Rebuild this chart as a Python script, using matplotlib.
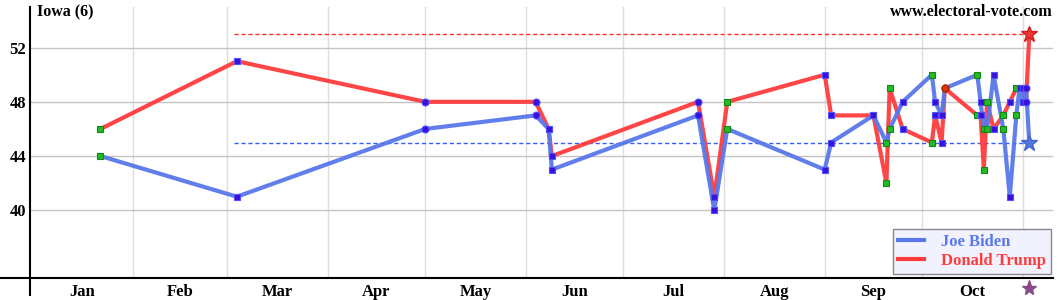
import pandas as pd
import matplotlib
matplotlib.use("Agg")
import matplotlib.pyplot as plt
from matplotlib.lines import Line2D

# polls for Iowa, 2020
poll_dates = ["2020-01-22", "2020-03-04", "2020-05-01", "2020-06-04", "2020-06-08",
              "2020-06-09", "2020-07-24", "2020-07-29", "2020-08-02", "2020-09-01",
              "2020-09-03", "2020-09-16", "2020-09-20", "2020-09-21", "2020-09-25",
              "2020-10-04", "2020-10-05", "2020-10-07", "2020-10-08", "2020-10-18",
              "2020-10-19", "2020-10-20", "2020-10-21", "2020-10-23", "2020-10-26",
              "2020-10-28", "2020-10-30", "2020-10-31", "2020-11-01", "2020-11-02"]
biden = [44, 41, 46, 47, 46, 43, 47, 40, 46, 43,
         45, 47, 45, 46, 48, 50, 48, 47, 49, 50,
         48, 46, 46, 50, 46, 41, 47, 49, 48, 49]
trump = [46, 51, 48, 48, 46, 44, 48, 41, 48, 50,
         47, 47, 42, 49, 46, 45, 47, 45, 49, 47,
         47, 43, 48, 46, 47, 48, 49, 49, 49, 48]
# marker kind per poll: g = green square, b = blue square, c = blue circle, r = red circle
poll_marks = ["g", "b", "c", "c", "b", "b", "c", "b", "g", "b",
              "b", "b", "g", "g", "b", "g", "b", "b", "r", "g",
              "b", "g", "g", "b", "g", "b", "g", "b", "b", "c"]

election_date = "2020-11-03"
biden_final = 45
trump_final = 53
ref_start = "2020-03-03"

months = ["Jan", "Feb", "Mar", "Apr", "May", "Jun", "Jul", "Aug", "Sep", "Oct"]
month_starts = ["2020-02-01", "2020-03-01", "2020-04-01", "2020-05-01", "2020-06-01",
                "2020-07-01", "2020-08-01", "2020-09-01", "2020-10-01", "2020-11-01"]
y_ticks = [40, 44, 48, 52]

t0 = pd.Timestamp("2020-01-01")
def day(s):
    return (pd.Timestamp(s) - t0).days

x = [day(d) for d in poll_dates]
x_end = day(election_date)

BLUE = "#5878ea"
RED = "#ff3c3c"
serif = "Liberation Serif"

fig = plt.figure(figsize=(10.6, 3.0), dpi=100)
ax = fig.add_axes([30 / 1060, 22 / 300, 1023 / 1060, 271 / 300])
ax.set_xlim(-0.7, 314.3)
ax.set_ylim(35, 55)

for s in ax.spines.values():
    s.set_visible(False)
ax.tick_params(length=0)

# grid
for ms in month_starts:
    ax.axvline(day(ms), color="#dddddd", lw=1, zorder=0)
for yt in y_ticks:
    ax.axhline(yt, color="#c4c4c4", lw=1, zorder=0)

# reference lines at final result
ax.plot([day(ref_start), x_end], [trump_final, trump_final], color="#ff3030", lw=1,
        ls=(0, (3, 2)), zorder=1)
ax.plot([day(ref_start), x_end], [biden_final, biden_final], color="#3060ff", lw=1,
        ls=(0, (3, 2)), zorder=1)

# poll lines ending at the final result
ax.plot(x + [x_end], trump + [trump_final], color=RED, lw=3, alpha=0.95, zorder=2)
ax.plot(x + [x_end], biden + [biden_final], color=BLUE, lw=3, alpha=0.95, zorder=3)

styles = {
    "g": dict(marker="s", mfc="#22bb22", mec="#118811"),
    "b": dict(marker="s", mfc="#3a10d8", mec="#5050ff"),
    "c": dict(marker="o", mfc="#3a10d8", mec="#5050ff"),
    "r": dict(marker="o", mfc="#dd3311", mec="#aa2200"),
}
for xi, b, t, m in zip(x, biden, trump, poll_marks):
    ax.plot([xi, xi], [b, t], ls="none", ms=5, mew=0.8, zorder=4, **styles[m])

ax.plot(x_end, trump_final, marker="*", ms=12, color="#ee3333", mec="#cc2222", zorder=5)
ax.plot(x_end, biden_final, marker="*", ms=12, color="#5577dd", mec="#4466cc", zorder=5)
ax.plot(x_end, 34.25, marker="*", ms=11, color="#8a4a8a", clip_on=False, zorder=5)

# axes lines that cross past each other
ax.plot([-0.055, 1.0], [0, 0], transform=ax.transAxes, color="black", lw=1.5,
        clip_on=False)
ax.plot([0, 0], [-0.063, 1.0], transform=ax.transAxes, color="black", lw=1.5,
        clip_on=False)

# ticks
ax.set_yticks(y_ticks)
ax.set_yticklabels([str(v) for v in y_ticks], fontfamily=serif, fontweight="bold",
                   fontsize=12)
ax.tick_params(axis="y", pad=3)
starts = ["2020-01-01"] + month_starts
mids = [(day(starts[i]) + day(starts[i + 1])) / 2 for i in range(len(months))]
ax.set_xticks(mids)
ax.set_xticklabels(months, fontfamily=serif, fontweight="bold", fontsize=12)
ax.tick_params(axis="x", pad=4)

fig.text(37 / 1060, 1 - 12 / 300, "Iowa (6)", fontfamily=serif, fontweight="bold",
         fontsize=11.5, va="center", ha="left")
fig.text(1053 / 1060, 1 - 12 / 300, "www.electoral-vote.com", fontfamily=serif,
         fontweight="bold", fontsize=11.5, va="center", ha="right")

handles = [Line2D([], [], color=BLUE, lw=3), Line2D([], [], color=RED, lw=3)]
leg = ax.legend(handles, ["Joe Biden", "Donald Trump"], loc="lower right",
                bbox_to_anchor=(0.998, 0.015), borderaxespad=0,
                prop=dict(family=serif, weight="bold", size=12),
                frameon=True, fancybox=False, handlelength=1.6, handletextpad=1.0,
                borderpad=0.3, labelspacing=0.2)
leg.get_frame().set_facecolor("#f2f2ff")
leg.get_frame().set_edgecolor("#888888")
leg.get_frame().set_alpha(1)
for txt, c in zip(leg.get_texts(), [BLUE, RED]):
    txt.set_color(c)

fig.savefig("out.png", dpi=100)
